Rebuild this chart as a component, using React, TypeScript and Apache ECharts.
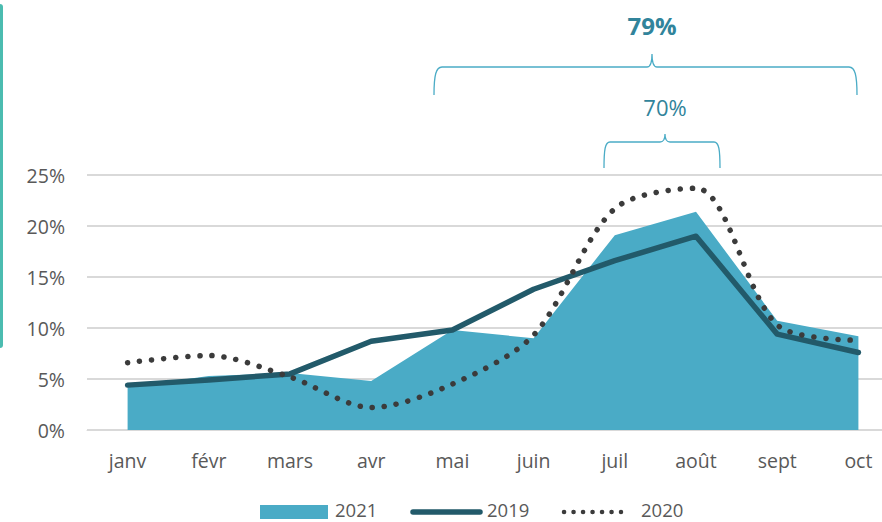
import React, { useEffect, useRef } from "react";
import * as echarts from "echarts";

const categories = ["janv", "févr", "mars", "avr", "mai", "juin", "juil", "août", "sept", "oct"];
const values2021 = [4.2, 5.3, 5.6, 4.8, 9.8, 9.0, 19.1, 21.4, 10.7, 9.2];
const values2019 = [4.4, 4.9, 5.5, 8.7, 9.8, 13.8, 16.6, 19.0, 9.4, 7.6];
const values2020 = [6.6, 7.3, 5.2, 2.2, 4.5, 9.3, 21.7, 23.7, 10.3, 8.8];
const yTicks = [0, 5, 10, 15, 20, 25];
const seriesNames = ["2021", "2019", "2020"];
const braceLabels = ["79%", "70%"];

const FONT = "'Open Sans', 'Noto Sans', sans-serif";
const C2021 = "#4aabc6";
const C2019 = "#225a6a";
const C2020 = "#3b3b3b";
const TXT = "#595959";

export default function App() {
  const ref = useRef<HTMLDivElement>(null);
  useEffect(() => {
    if (!ref.current) return;
    echarts.graphic.registerShape(
      "braceBig",
      echarts.graphic.extendPath(
        "M434,95 C434,75 436,67 442,67 L647,67 C650,67 652,62 652,54 C652,62 654,67 657,67 L849,67 C855,67 857,75 857,95",
        {}
      )
    );
    echarts.graphic.registerShape(
      "braceSmall",
      echarts.graphic.extendPath(
        "M604,168 C604,150 605,142 610,142 L660,142 C663,142 665,139 665,134 C665,139 667,142 670,142 L714,142 C719,142 720,150 720,168",
        {}
      )
    );
    const chart = echarts.init(ref.current, null, { renderer: "svg" });
    const legendText = (x: number, text: string) => ({
      type: "text",
      x,
      y: 509,
      style: {
        text,
        fill: TXT,
        font: `18.5px ${FONT}`,
        lineHeight: 19,
        align: "left",
        verticalAlign: "middle",
      },
    });
    chart.setOption({
      animation: false,
      grid: { left: 87, top: 175, right: -17, height: 255, containLabel: false, outerBoundsMode: "none" },
      xAxis: {
        type: "category",
        data: categories,
        boundaryGap: true,
        axisLine: { show: true, lineStyle: { color: "#d9d9d9", width: 1 } },
        axisTick: { show: false },
        axisLabel: { color: TXT, fontFamily: FONT, fontSize: 19.5, margin: 20 },
      },
      yAxis: {
        type: "value",
        min: yTicks[0],
        max: yTicks[yTicks.length - 1],
        interval: 5,
        axisLine: { show: false },
        axisTick: { show: false },
        splitLine: { lineStyle: { color: "#d9d9d9", width: 2 } },
        axisLabel: {
          color: TXT,
          fontFamily: FONT,
          fontSize: 19.5,
          margin: 22,
          formatter: (v: number) => `${v}%`,
        },
      },
      series: [
        {
          name: seriesNames[0],
          type: "line",
          data: values2021,
          symbol: "none",
          lineStyle: { width: 0, color: C2021 },
          itemStyle: { color: C2021 },
          areaStyle: { color: C2021, opacity: 1 },
          z: 1,
        },
        {
          name: seriesNames[1],
          type: "line",
          data: values2019,
          symbol: "none",
          lineStyle: { width: 5.5, color: C2019, cap: "round", join: "round" },
          itemStyle: { color: C2019 },
          z: 3,
        },
        {
          name: seriesNames[2],
          type: "line",
          data: values2020,
          symbol: "none",
          smooth: 0.3,
          lineStyle: { width: 5.5, color: C2020, type: [0.1, 12], cap: "round" },
          itemStyle: { color: C2020 },
          z: 4,
        },
      ],
      graphic: [
        {
          type: "rect",
          shape: { x: -3, y: 4, width: 6, height: 344, r: 3 },
          style: { fill: "#4bbcb0" },
        },
        {
          type: "braceBig",
          x: 0,
          y: 0,
          style: { fill: "none", stroke: "#4bacc6", lineWidth: 1.3 },
        },
        {
          type: "braceSmall",
          x: 0,
          y: 0,
          style: { fill: "none", stroke: "#4bacc6", lineWidth: 1.3 },
        },
        {
          type: "text",
          x: 652,
          y: 25,
          style: {
            text: braceLabels[0],
            fill: "#31849b",
            font: `bold 24px ${FONT}`,
            align: "center",
            verticalAlign: "middle",
          },
        },
        {
          type: "text",
          x: 665,
          y: 107,
          style: {
            text: braceLabels[1],
            fill: "#31849b",
            font: `22px ${FONT}`,
            align: "center",
            verticalAlign: "middle",
          },
        },
        // legend
        {
          type: "rect",
          shape: { x: 260, y: 505, width: 68, height: 14 },
          style: { fill: C2021 },
        },
        legendText(335, seriesNames[0]),
        {
          type: "line",
          shape: { x1: 413, y1: 512, x2: 480, y2: 512 },
          style: { stroke: C2019, lineWidth: 5.5, lineCap: "round" },
        },
        legendText(487, seriesNames[1]),
        {
          type: "line",
          shape: { x1: 564, y1: 512, x2: 621, y2: 512 },
          style: { stroke: C2020, lineWidth: 4.5, lineCap: "round", lineDash: [0.1, 9.4] },
        },
        legendText(641, seriesNames[2]),
      ],
    });
    return () => chart.dispose();
  }, []);
  return (
    <div
      ref={ref}
      style={{ position: "absolute", left: 0, top: 0, width: 882, height: 522, background: "#fff", overflow: "hidden" }}
    />
  );
}
